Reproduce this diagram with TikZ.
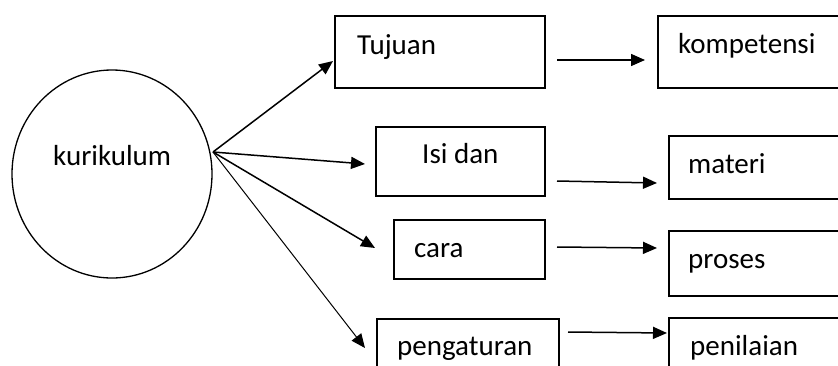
\documentclass[tikz,border=0pt]{standalone}
\usepackage{fontspec}
\setmainfont{Carlito}
\usetikzlibrary{arrows.meta,shapes.geometric}
\newcommand{\boxfont}{\fontsize{29}{35}\selectfont}
\begin{document}
\begin{tikzpicture}[x=1pt,y=-1pt,
  box/.style={draw, line width=1.6pt, rectangle, inner sep=0pt, anchor=north west},
  txt/.style={anchor=base west, inner sep=0pt, font=\boxfont},
  arr/.style={line width=1.5pt, -{Triangle[length=14pt,width=12pt]}},
  thinarr/.style={line width=1pt, -{Triangle[length=14pt,width=12pt]}}]
\useasboundingbox (0,0) rectangle (838,365);
\clip (0,0) rectangle (838,365);
% central circle
\node[draw, ellipse, line width=1.3pt, minimum width=200pt, minimum height=208pt, inner sep=0pt] (kur) at (112,174) {};
\node[txt] (kurT) at (53,165) {kurikulum};
\coordinate (hub) at (213,152);
% left column boxes
\node[box, minimum width=210pt, minimum height=72pt] (tuj) at (334,15) {};
\node[txt] (tujT) at (357,54) {Tujuan};
\node[box, minimum width=169pt, minimum height=69pt] (isi) at (375,126) {};
\node[txt] (isiT) at (422,163) {Isi dan};
\node[box, minimum width=151pt, minimum height=59pt] (cara) at (393,219) {};
\node[txt] (caraT) at (414,257) {cara};
\node[box, minimum width=182pt, minimum height=70pt] (peng) at (376,318) {};
\node[txt] (pengT) at (397,355) {pengaturan};
% right column boxes
\node[box, minimum width=200pt, minimum height=72pt] (komp) at (657,15) {};
\node[txt] (kompT) at (678,53) {kompetensi};
\node[box, minimum width=190pt, minimum height=63pt] (mat) at (668,135) {};
\node[txt] (matT) at (688,173) {materi};
\node[box, minimum width=190pt, minimum height=65pt] (pros) at (668,230) {};
\node[txt] (prosT) at (688,268) {proses};
\node[box, minimum width=190pt, minimum height=70pt] (pen) at (668,317) {};
\node[txt] (penT) at (690,355) {penilaian};
% arrow end points
\coordinate (t1) at (333,61);
\coordinate (t2) at (365,164);
\coordinate (t3) at (375,248);
\coordinate (t4) at (365,348);
\coordinate (r1s) at (557,60);  \coordinate (r1e) at (645,60);
\coordinate (r2s) at (557,181); \coordinate (r2e) at (657,183);
\coordinate (r3s) at (557,247); \coordinate (r3e) at (657,248);
\coordinate (r4s) at (568,332); \coordinate (r4e) at (667,333);
% arrows from hub
\draw[arr] (hub) -- (t1);
\draw[arr] (hub) -- (t2);
\draw[arr] (hub) -- (t3);
\draw[thinarr] (hub) -- (t4);
% right arrows
\draw[arr] (r1s) -- (r1e);
\draw[arr] (r2s) -- (r2e);
\draw[arr] (r3s) -- (r3e);
\draw[arr] (r4s) -- (r4e);
\end{tikzpicture}
\end{document}
